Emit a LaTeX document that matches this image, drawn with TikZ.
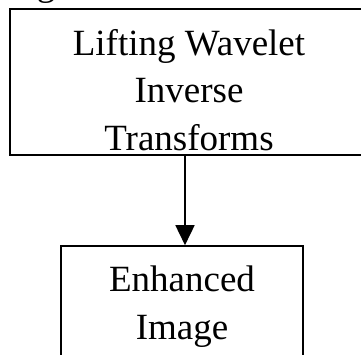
\documentclass[tikz,border=0pt]{standalone}
\usepackage{fontspec}
\setmainfont{Liberation Serif}
\usetikzlibrary{arrows.meta}

\begin{document}
\begin{tikzpicture}[x=1pt,y=1pt,
  block/.style={draw,line width=1.6pt,align=center,inner xsep=0pt,inner ysep=0pt,
    font=\fontsize{37}{47.5}\selectfont},
  flow/.style={line width=1.6pt,-{Triangle[length=20pt,width=19pt]}}]
\useasboundingbox (0,0) rectangle (361,-354);
\node (cut) [anchor=base,font=\fontsize{37}{42}\selectfont] at (46,5) {g};
\node (lwit) [block,minimum width=358pt,text height=141pt,text depth=5pt,anchor=base]
  at (189,-150) {Lifting Wavelet\\Inverse\\Transforms};
\node (enh) [block,minimum width=242pt,text height=93pt,text depth=25pt,anchor=base]
  at (182,-339) {Enhanced\\Image};
\coordinate (a) at (185,0);
\draw[flow] (a |- lwit.south) -- (a |- enh.north);
\end{tikzpicture}
\end{document}
